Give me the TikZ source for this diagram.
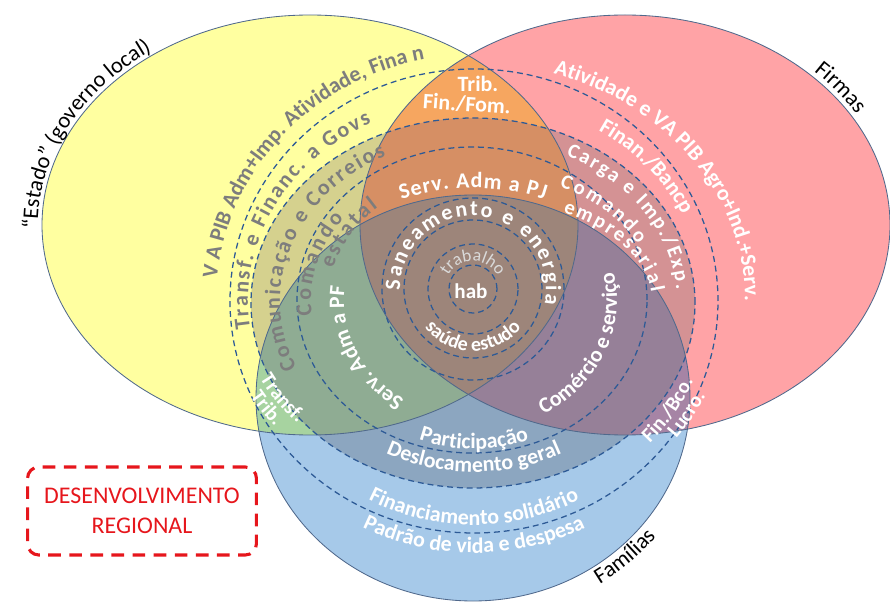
\documentclass[tikz,border=0pt]{standalone}
\usepackage{fontspec}
\setmainfont{Carlito}
\usetikzlibrary{decorations.text}

\definecolor{estyel}{RGB}{255,255,160}
\definecolor{firpink}{RGB}{255,163,166}
\definecolor{famblue}{RGB}{166,201,233}
\definecolor{ypOrange}{RGB}{246,166,96}
\definecolor{ygOlive}{RGB}{213,209,142}
\definecolor{ypgOrange}{RGB}{214,143,100}
\definecolor{ybGreen}{RGB}{167,211,160}
\definecolor{ybgGreen}{RGB}{143,172,147}
\definecolor{pgPink}{RGB}{212,146,148}
\definecolor{pbPurple}{RGB}{166,132,165}
\definecolor{pbgPurple}{RGB}{150,128,152}
\definecolor{bgBlue}{RGB}{140,166,192}
\definecolor{allBrown}{RGB}{157,133,122}
\definecolor{rimblue}{RGB}{80,105,140}
\definecolor{ringblue}{RGB}{45,90,150}
\definecolor{txtgray}{RGB}{125,125,125}
\definecolor{txtlight}{RGB}{218,218,218}
\definecolor{desred}{RGB}{230,22,28}

% fonts (1px = 0.71pt)
\newcommand{\fb}{\fontsize{15.6}{18}\selectfont\bfseries}
\newcommand{\fbs}{\fontsize{14.6}{17}\selectfont\bfseries}
\newcommand{\fr}{\fontsize{12.5}{14}\selectfont}
\newcommand{\fl}{\fontsize{16}{19}\selectfont}

% the four sets
\def\elY{(310,-225) ellipse [x radius=268, y radius=210]}
\def\elP{(625,-225) ellipse [x radius=265, y radius=210]}
\def\elB{(473,-398) ellipse [x radius=217, y radius=203]}
\def\elG{(473,-303) ellipse [x radius=222, y radius=185]}

% text on an elliptic arc: opts, cx, cy, rx, ry, from, to, text
\newcommand{\curvtext}[8]{%
  \path[decorate, decoration={text along path, text align=center, #1, text={#8}}]
    ([shift={(#2,#3)}]#6:#4 and #5) arc[start angle=#6, end angle=#7, x radius=#4, y radius=#5];}

\begin{document}
\begin{tikzpicture}[x=0.025cm, y=0.025cm,
    rim/.style={draw=rimblue, line width=0.6pt},
    ring/.style={draw=ringblue, line width=0.9pt, dash pattern=on 4.2pt off 2.8pt},
  ]
  \useasboundingbox (0,0) rectangle (890,-603);

  % === Filled sets ===
  \fill[estyel] \elY;
  \fill[firpink] \elP;
  \fill[famblue] \elB;

  % --- pairwise overlaps ---
  \begin{scope} \clip \elY; \fill[ypOrange] \elP; \end{scope}
  \begin{scope} \clip \elY; \fill[ybGreen] \elB; \end{scope}
  \begin{scope} \clip \elP; \fill[pbPurple] \elB; \end{scope}

  % --- inside the central zone ---
  \begin{scope} \clip \elG; \fill[ygOlive] \elY; \end{scope}
  \begin{scope} \clip \elG; \fill[pgPink] \elP; \end{scope}
  \begin{scope} \clip \elG; \fill[bgBlue] \elB; \end{scope}
  \begin{scope} \clip \elG; \clip \elY; \fill[ypgOrange] \elP; \end{scope}
  \begin{scope} \clip \elG; \clip \elY; \fill[ybgGreen] \elB; \end{scope}
  \begin{scope} \clip \elG; \clip \elP; \fill[pbgPurple] \elB; \end{scope}
  \begin{scope} \clip \elG; \clip \elY; \clip \elP; \fill[allBrown] \elB; \end{scope}

  % --- outlines ---
  \draw[rim] \elY;
  \draw[rim] \elP;
  \draw[rim] \elB;
  \draw[ring] \elG;

  % === Dashed rings ===
  \draw[ring] (474,-301) ellipse [x radius=244, y radius=232];
  \draw[ring] (472,-300) ellipse [x radius=175, y radius=153];
  \foreach \r in {24,45,69,91} {
    \draw[ring] (473,-289) circle [radius=\r];
  }

  % === Estado (gray) ===
  \curvtext{text color=txtgray}{474}{-301}{258}{246}{180}{96}{|\fb|V A PIB Adm+Imp. Atividade, Fina n}
  \curvtext{text color=txtgray, text align={fit to path}}{474}{-301}{226}{200}{188}{117}{|\fb|Transf. e Financ. a Govs}
  \curvtext{text color=txtgray, text align={fit to path}}{474}{-301}{194}{163}{204}{117}{|\fb|Comunicação e Correios}
  \curvtext{text color=txtgray, text align={fit to path}}{474}{-301}{163}{138}{186}{143}{|\fb|Comando}
  \curvtext{text color=txtgray, text align={fit to path}}{474}{-301}{146}{124}{165}{131}{|\fb|estatal}

  % === Top and centre ===
  \node[font=\fb, text=white] (trib) at (478,-84) {Trib.};
  \node[font=\fb, text=white, rotate=-4] (finfom) at (467,-104) {Fin./Fom.};
  \curvtext{text color=white, text align={fit to path}}{473}{-420}{232}{232}{108}{72}{|\fb|Serv. Adm a PJ}
  \curvtext{text color=white, text align={fit to path}}{473}{-289}{73}{73}{181}{-12}{|\fb|Saneamento e energia}
  \curvtext{text color=txtlight}{473}{-289}{28}{28}{160}{20}{|\fr|trabalho}
  \node[font=\fontsize{15}{17}\selectfont\bfseries, text=white] (hab) at (471,-291) {hab};
  \curvtext{text color=white}{473}{-289}{62}{62}{212}{328}{|\fontsize{14.2}{16}\selectfont\bfseries|saúde estudo}

  % === Firmas (right) ===
  \curvtext{text color=white}{474}{-301}{271}{238}{80}{-8}{|\fb|Atividade e VA PIB Agro+Ind.+Serv.}
  \curvtext{text color=white}{474}{-301}{230}{203}{62}{20}{|\fb|Finan./Bancp}
  \curvtext{text color=white, text align={fit to path}}{474}{-301}{203}{163}{63}{4}{|\fbs|Carga e Imp./Exp.}
  \curvtext{text color=white, text align={fit to path}}{474}{-301}{182}{130}{62}{26}{|\fbs|Comando}
  \curvtext{text color=white, text align={fit to path}}{474}{-301}{178}{102}{60}{5}{|\fbs|empresarial}
  \curvtext{text color=white}{474}{-300}{143}{131}{-66}{18}{|\fb|Comércio e serviço}
  \curvtext{text color=white}{474}{-301}{237}{212}{-48}{-16}{|\fbs|Fin./Bco.}
  \curvtext{text color=white}{474}{-301}{255}{226}{-42}{-20}{|\fbs|Lucro.}

  % === Famílias (bottom) ===
  \curvtext{text color=white}{474}{-301}{130}{117}{244}{166}{|\fb|Serv. Adm a PF}
  \curvtext{text color=white}{474}{-301}{236}{184}{198}{228}{|\fbs|Transf.}
  \curvtext{text color=white}{474}{-301}{254}{202}{200}{226}{|\fbs|Trib.}
  \curvtext{text color=white}{474}{-300}{160}{149}{240}{300}{|\fb|Participação}
  \curvtext{text color=white}{474}{-300}{194}{172}{233}{307}{|\fb|Deslocamento geral}
  \curvtext{text color=white}{474}{-300}{230}{225}{237}{303}{|\fb|Financiamento solidário}
  \curvtext{text color=white}{474}{-300}{255}{253}{238}{302}{|\fb|Padrão de vida e despesa}

  % === Set names ===
  \curvtext{text color=black}{310}{-225}{272}{214}{190}{118}{|\fl|“Estado” (governo local)}
  \curvtext{text color=black}{625}{-225}{270}{215}{52}{24}{|\fl|Firmas}
  \curvtext{text color=black}{473}{-398}{235}{221}{-62}{-34}{|\fl|Famílias}

  % --- title box ---
  \node[draw=desred, line width=2.2pt, dash pattern=on 9pt off 6pt, rounded corners=8pt,
        minimum width=5.72cm, minimum height=2.2cm, align=center, text=desred,
        font=\fontsize{17}{21}\selectfont] (desenv) at (142,-511) {DESENVOLVIMENTO\\REGIONAL};
\end{tikzpicture}
\end{document}
